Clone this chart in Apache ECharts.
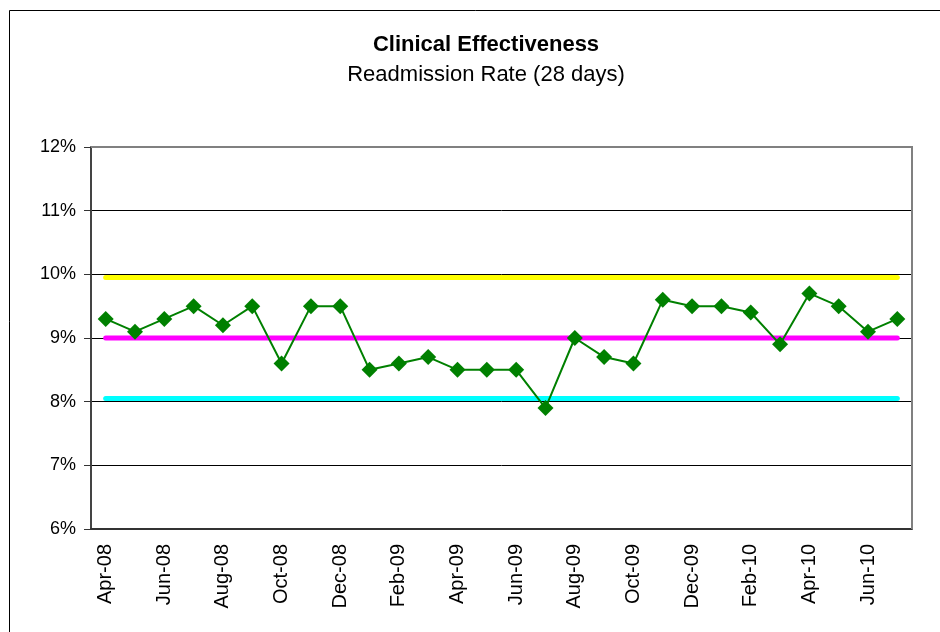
<!DOCTYPE html>
<html>
<head>
<meta charset="utf-8">
<script src="https://cdn.jsdelivr.net/npm/echarts@6/dist/echarts.min.js"></script>
<style>
  html, body { margin: 0; padding: 0; background: #fff; }
  #chart { width: 940px; height: 632px; }
</style>
</head>
<body>
<div id="chart"></div>
<script>
  // monthly categories, Apr-08 .. Jul-10
  var months = ['Apr-08', 'May-08', 'Jun-08', 'Jul-08', 'Aug-08', 'Sep-08', 'Oct-08', 'Nov-08', 'Dec-08',
    'Jan-09', 'Feb-09', 'Mar-09', 'Apr-09', 'May-09', 'Jun-09', 'Jul-09', 'Aug-09', 'Sep-09', 'Oct-09',
    'Nov-09', 'Dec-09', 'Jan-10', 'Feb-10', 'Mar-10', 'Apr-10', 'May-10', 'Jun-10', 'Jul-10'];

  // readmission rate, %
  var rate = [9.3, 9.1, 9.3, 9.5, 9.2, 9.5, 8.6, 9.5, 9.5,
    8.5, 8.6, 8.7, 8.5, 8.5, 8.5, 7.9, 9.0, 8.7, 8.6,
    9.6, 9.5, 9.5, 9.4, 8.9, 9.7, 9.5, 9.1, 9.3];

  // control lines, %
  var upperLimit = 9.95;
  var mean = 9.0;
  var lowerLimit = 8.05;

  var yTicks = { min: 6, max: 12, step: 1 };

  var first = months[0];
  var last = months[months.length - 1];

  function flatLine(name, value, color) {
    return {
      name: name,
      type: 'line',
      data: [[first, value], [last, value]],
      symbol: 'none',
      silent: true,
      lineStyle: { color: color, width: 5, cap: 'round' },
      z: 2
    };
  }

  var chart = echarts.init(document.getElementById('chart'));
  chart.setOption({
    animation: false,
    backgroundColor: '#fff',
    textStyle: { fontFamily: 'Liberation Sans, Arial, sans-serif' },
    graphic: [{
      type: 'rect',
      shape: { x: 9.5, y: 10.5, width: 960, height: 660 },
      style: { fill: 'none', stroke: '#000', lineWidth: 1 },
      silent: true
    }, {
      // gray plot border top and right
      type: 'polyline',
      shape: { points: [[91, 147], [912, 147], [912, 529]] },
      style: { fill: 'none', stroke: '#808080', lineWidth: 2 },
      silent: true,
      z: 1
    }],
    title: {
      text: 'Clinical Effectiveness',
      subtext: 'Readmission Rate (28 days)',
      left: 481,
      textAlign: 'center',
      top: 29,
      itemGap: 8,
      textStyle: { fontSize: 22, fontWeight: 'bold', color: '#000', fontFamily: 'Liberation Sans' },
      subtextStyle: { fontSize: 22, color: '#000', fontFamily: 'Liberation Sans' }
    },
    grid: { left: 91, right: 28, top: 147, bottom: 103 },
    xAxis: {
      type: 'category',
      data: months,
      boundaryGap: true,
      axisLine: { lineStyle: { color: '#333', width: 2 } },
      axisTick: { interval: 1, length: 7, lineStyle: { color: '#333', width: 1 } },
      axisLabel: { interval: 1, rotate: 90, fontSize: 20, color: '#000', margin: 15 },
      splitLine: { show: false }
    },
    yAxis: {
      type: 'value',
      min: yTicks.min,
      max: yTicks.max,
      interval: yTicks.step,
      axisLine: { show: true, lineStyle: { color: '#444', width: 2 } },
      axisTick: { show: true, length: 7, lineStyle: { color: '#333' } },
      axisLabel: { fontSize: 18, color: '#000', margin: 15, formatter: '{value}%' },
      splitLine: { lineStyle: { color: '#000', width: 1 } }
    },
    series: [
      flatLine('Upper', upperLimit, '#ffff00'),
      flatLine('Mean', mean, '#ff00ff'),
      flatLine('Lower', lowerLimit, '#00ffff'),
      {
        name: 'Readmission Rate',
        type: 'line',
        data: rate,
        symbol: 'diamond',
        symbolSize: 16,
        itemStyle: { color: '#008000' },
        lineStyle: { color: '#008000', width: 2 },
        z: 3
      }
    ]
  });
</script>
</body>
</html>
